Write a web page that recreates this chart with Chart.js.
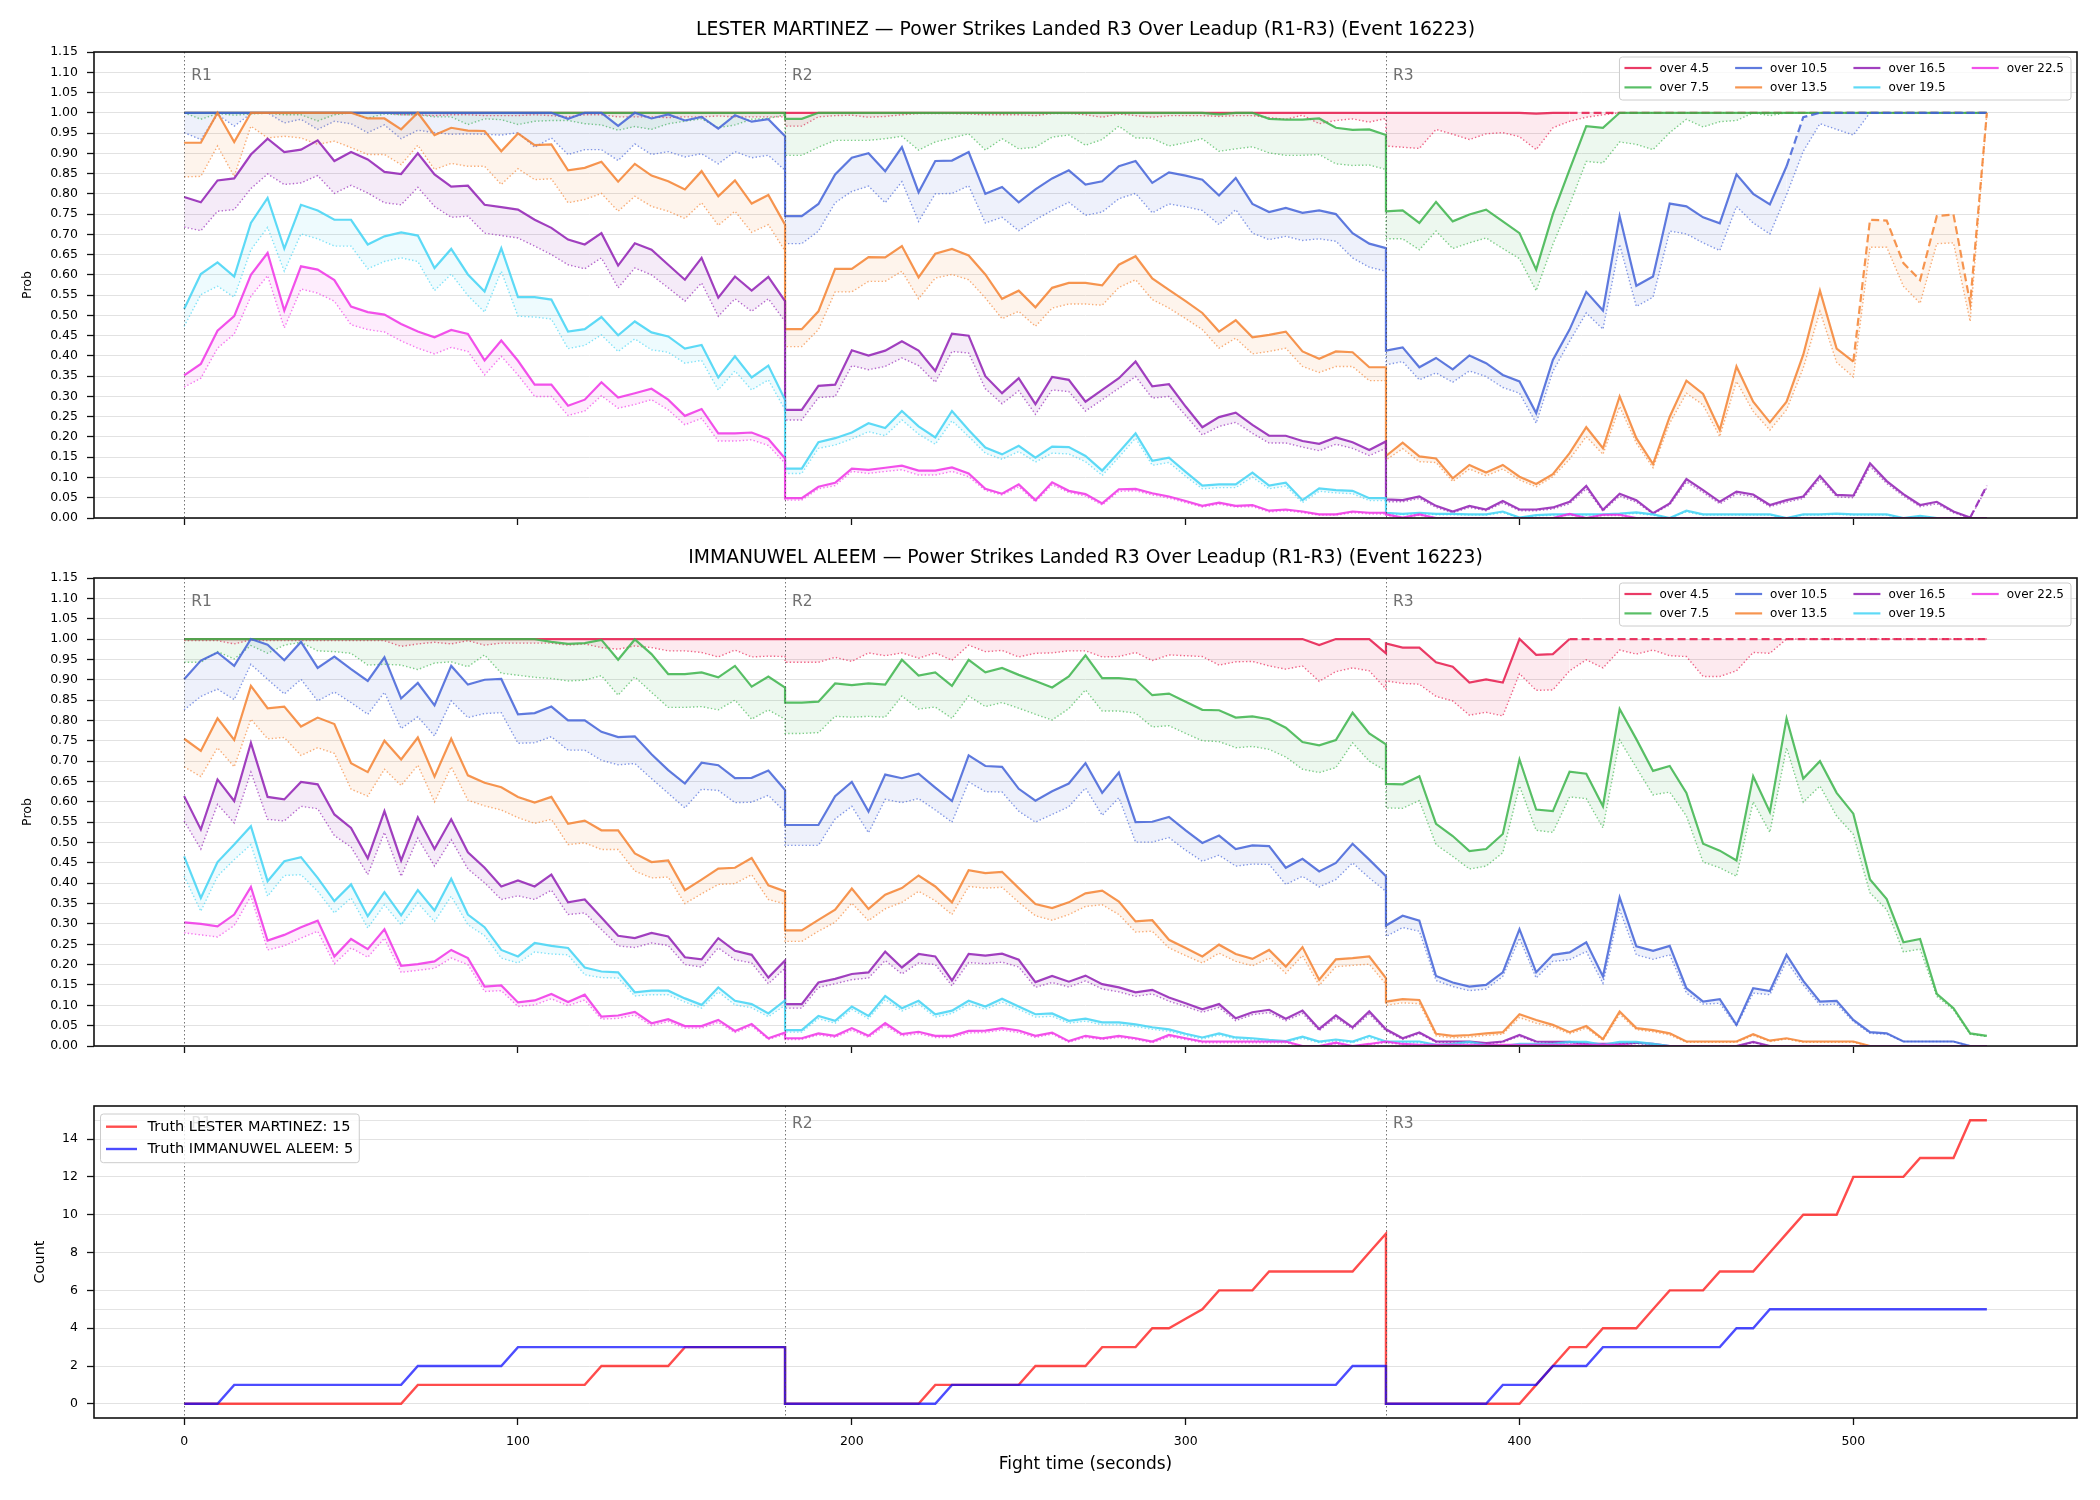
<!DOCTYPE html>
<html>
<head>
<meta charset="utf-8">
<title>Power Strikes Landed R3 Over Leadup</title>
<script src="https://cdn.jsdelivr.net/npm/chart.js@4.4.1/dist/chart.umd.min.js"></script>
<style>
  html, body { margin: 0; padding: 0; background: #fff; }
  #wrap { position: relative; width: 2100px; height: 1500px; }
  canvas { position: absolute; left: 0; }
</style>
</head>
<body>
<div id="wrap">
  <canvas id="cTop" width="2100" height="540" style="top:0px"></canvas>
  <canvas id="cMid" width="2100" height="535" style="top:540px"></canvas>
  <canvas id="cBot" width="2100" height="425" style="top:1075px"></canvas>
</div>
<script>
/* ---- data ---- */

var fightTime = [
  0,5,10,15,20,25,30,35,40,45, 50,55,60,65,70,75,80,85,90,95, 100,105,110,115,120,125,130,135,140,145, 150,155,160,165,170,175,180,
  180,185,190,195,200,205,210,215,220,225, 230,235,240,245,250,255,260,265,270,275, 280,285,290,295,300,305,310,315,320,325, 330,335,340,345,350,355,360,
  360,365,370,375,380,385,390,395,400,405, 410,415,420,425,430,435,440,445,450,455, 460,465,470,475,480,485,490,495,500,505, 510,515,520,525,530,535,540
];

var thresholdLabels = ['over 4.5', 'over 7.5', 'over 10.5', 'over 13.5', 'over 16.5', 'over 19.5', 'over 22.5'];
var thresholdColors = ['230,25,75', '60,180,75', '67,99,216', '245,130,49', '145,30,180', '66,212,244', '240,50,230'];

var roundStarts = [0, 180, 360];
var roundNames = ['R1', 'R2', 'R3'];

var probTicks = [0, 0.05, 0.1, 0.15, 0.2, 0.25, 0.3, 0.35, 0.4, 0.45, 0.5, 0.55, 0.6, 0.65, 0.7, 0.75, 0.8, 0.85, 0.9, 0.95, 1, 1.05, 1.1, 1.15];
var countTicks = [0, 2, 4, 6, 8, 10, 12, 14];
var timeTicks = [0, 100, 200, 300, 400, 500];

/* where each line turns dashed (seconds), null = never */
var dashFromMartinez = [415, null, 480, 500, 535, null, null];
var dashFromAleem = [415, null, null, null, null, null, null];

/* LESTER MARTINEZ */
var lmO45 = [
  1,1,1,1,1,1,1,1,1,1, 1,1,1,1,1,1,1,1,1,1, 1,1,1,1,1,1,1,1,1,1, 1,1,1,1,1,1,1,
  1,1,1,1,1,1,1,1,1,1, 1,1,1,1,1,1,1,1,1,1, 1,1,1,1,1,1,1,1,1,1, 1,1,1,1,1,1,1,
  1,1,1,1,1,1,1,1,1,0.998, 1,1,1,1,1,1,1,1,1,1, 1,1,1,1,1,1,1,1,1,1, 1,1,1,1,1,1,1
];
var lmO45Low = [
  1,1,1,1,1,1,1,1,1,0.998, 1,1,1,0.995,0.995,0.993,0.995,0.995,0.993,0.993, 0.993,0.995,0.993,0.99,0.995,0.995,0.99,0.99,0.99,0.988, 0.99,0.99,0.992,0.99,0.99,0.99,0.99,
  0.967,0.967,0.99,0.993,0.994,0.989,0.991,0.995,0.998,0.998, 0.998,0.997,0.995,0.995,0.995,0.993,0.998,0.998,0.995,0.989, 0.997,0.993,0.989,0.993,0.993,0.993,0.991,0.993,0.993,0.988, 0.984,0.994,0.973,0.981,0.985,0.977,0.986,
  0.918,0.915,0.912,0.959,0.947,0.934,0.948,0.951,0.941,0.909, 0.963,0.979,0.989,0.995,1,1,1,1,1,1, 1,1,1,1,1,1,1,1,1,1, 1,1,1,1,1,1,1
];
var lmO75 = [
  1,1,1,1,1,1,1,1,1,1, 1,1,1,1,1,1,1,1,1,1, 1,1,1,1,1,1,1,1,1,1, 1,1,1,1,1,1,1,
  0.985,0.985,1,1,1,1,1,1,1,1, 1,1,1,1,1,1,1,1,1,1, 1,1,1,1,1,1,0.996,1,1,0.985, 0.983,0.983,0.986,0.963,0.958,0.959,0.945,
  0.757,0.759,0.728,0.78,0.732,0.749,0.761,0.732,0.703,0.613, 0.75,0.86,0.967,0.963,1,1,1,1,1,1, 1,1,1,1,1,1,1,1,1,1, 1,1,1,1,1,1,1
];
var lmO75Low = [
  1,0.984,0.998,0.994,0.997,0.999,0.995,0.995,0.98,0.995, 1,0.987,0.997,0.995,0.995,0.99,0.99,0.971,0.985,0.983, 0.971,0.979,0.981,0.981,0.973,0.97,0.957,0.966,0.959,0.973, 0.979,0.985,0.963,0.97,0.984,0.986,0.995,
  0.895,0.895,0.915,0.932,0.932,0.932,0.936,0.942,0.908,0.928, 0.938,0.948,0.908,0.936,0.911,0.915,0.94,0.945,0.92,0.934, 0.967,0.938,0.937,0.918,0.926,0.936,0.905,0.911,0.916,0.901, 0.895,0.895,0.897,0.874,0.87,0.871,0.86,
  0.689,0.689,0.662,0.708,0.665,0.679,0.691,0.665,0.64,0.561, 0.675,0.773,0.88,0.876,0.928,0.922,0.909,0.951,0.984,0.965, 0.978,0.981,1,0.993,1,1,1,1,1,1, 1,1,1,1,1,1,1
];
var lmO105 = [
  1,1,1,1,1,1,1,1,1,1, 1,1,1,1,1,1,1,1,1,1, 1,1,1,0.985,1,1,0.968,1,0.986,0.996, 0.981,0.99,0.961,0.994,0.978,0.984,0.942,
  0.745,0.745,0.775,0.848,0.889,0.9,0.856,0.915,0.804,0.881, 0.882,0.903,0.8,0.817,0.779,0.811,0.838,0.858,0.823,0.831, 0.868,0.881,0.827,0.853,0.845,0.835,0.796,0.839,0.775,0.755, 0.765,0.753,0.759,0.75,0.703,0.677,0.666,
  0.413,0.421,0.372,0.395,0.367,0.401,0.382,0.353,0.337,0.259, 0.39,0.465,0.558,0.512,0.745,0.573,0.596,0.776,0.769,0.742, 0.727,0.848,0.8,0.774,0.868,0.989,1,1,1,1, 1,1,1,1,1,1,1
];
var lmO105Low = [
  0.951,0.934,0.996,0.967,0.998,1,0.975,0.984,0.959,0.979, 0.973,0.951,0.97,0.936,0.957,0.951,0.947,0.948,0.947,0.945, 0.951,0.915,0.938,0.897,0.909,0.909,0.882,0.923,0.897,0.904, 0.891,0.899,0.874,0.904,0.889,0.895,0.858,
  0.677,0.677,0.708,0.778,0.806,0.819,0.778,0.83,0.732,0.8, 0.801,0.82,0.728,0.742,0.709,0.736,0.759,0.779,0.747,0.755, 0.788,0.801,0.753,0.775,0.768,0.759,0.724,0.761,0.703,0.687, 0.695,0.685,0.689,0.683,0.642,0.619,0.609,
  0.378,0.386,0.341,0.358,0.335,0.363,0.349,0.322,0.308,0.234, 0.362,0.436,0.506,0.466,0.675,0.522,0.545,0.708,0.701,0.679, 0.66,0.769,0.728,0.701,0.798,0.905,0.973,0.959,0.945,1, 1,1,1,1,1,1,1
];
var lmO135 = [
  0.926,0.926,1,0.928,1,1,1,1,1,1, 1,0.986,0.986,0.959,1,0.945,0.963,0.956,0.955,0.905, 0.949,0.92,0.922,0.858,0.864,0.879,0.83,0.874,0.845,0.831, 0.811,0.856,0.794,0.833,0.776,0.797,0.724,
  0.466,0.466,0.51,0.615,0.615,0.644,0.643,0.671,0.594,0.652, 0.664,0.648,0.601,0.541,0.561,0.52,0.568,0.58,0.58,0.574, 0.625,0.646,0.591,0.563,0.535,0.506,0.46,0.488,0.446,0.452, 0.46,0.411,0.393,0.411,0.409,0.372,0.372,
  0.153,0.186,0.152,0.147,0.098,0.131,0.112,0.131,0.102,0.084, 0.108,0.16,0.224,0.172,0.3,0.197,0.133,0.25,0.339,0.306, 0.217,0.374,0.287,0.236,0.287,0.403,0.561,0.418,0.386,0.736, 0.734,0.629,0.587,0.745,0.749,0.53,1
];
var lmO135Low = [
  0.842,0.843,0.918,0.843,0.967,0.938,0.942,0.938,0.922,0.93, 0.914,0.897,0.897,0.872,0.92,0.86,0.875,0.868,0.868,0.823, 0.862,0.835,0.837,0.778,0.786,0.801,0.757,0.794,0.769,0.757, 0.739,0.778,0.722,0.757,0.705,0.724,0.659,
  0.423,0.423,0.465,0.558,0.558,0.584,0.584,0.609,0.541,0.592, 0.601,0.588,0.543,0.492,0.51,0.473,0.518,0.528,0.528,0.525, 0.569,0.588,0.539,0.518,0.492,0.465,0.419,0.444,0.405,0.411, 0.419,0.374,0.359,0.374,0.374,0.339,0.339,
  0.143,0.171,0.139,0.137,0.09,0.121,0.104,0.121,0.094,0.077, 0.102,0.145,0.201,0.157,0.275,0.185,0.124,0.234,0.308,0.279, 0.201,0.337,0.263,0.217,0.267,0.37,0.51,0.384,0.348,0.668, 0.668,0.572,0.53,0.677,0.679,0.485,1
];
var lmO165 = [
  0.792,0.779,0.833,0.838,0.897,0.936,0.903,0.909,0.932,0.881, 0.903,0.885,0.854,0.849,0.9,0.848,0.818,0.82,0.773,0.767, 0.761,0.736,0.716,0.687,0.675,0.703,0.623,0.678,0.662,0.625, 0.588,0.642,0.544,0.596,0.561,0.595,0.535,
  0.267,0.267,0.326,0.329,0.414,0.401,0.413,0.436,0.413,0.363, 0.455,0.45,0.35,0.308,0.345,0.281,0.348,0.341,0.287,0.316, 0.345,0.386,0.325,0.33,0.275,0.224,0.249,0.26,0.23,0.203, 0.203,0.19,0.183,0.199,0.187,0.168,0.189,
  0.046,0.044,0.053,0.03,0.016,0.03,0.021,0.042,0.021,0.021, 0.026,0.04,0.079,0.02,0.06,0.044,0.012,0.036,0.096,0.069, 0.04,0.065,0.058,0.032,0.044,0.053,0.104,0.057,0.055,0.135, 0.091,0.059,0.032,0.04,0.016,0.001,0.08
];
var lmO165Low = [
  0.718,0.709,0.757,0.761,0.813,0.849,0.823,0.827,0.845,0.801, 0.821,0.802,0.778,0.773,0.816,0.769,0.742,0.745,0.703,0.697, 0.691,0.671,0.65,0.625,0.615,0.642,0.568,0.617,0.6,0.568, 0.535,0.58,0.498,0.541,0.51,0.541,0.485,
  0.242,0.242,0.297,0.3,0.376,0.366,0.374,0.395,0.376,0.335, 0.411,0.407,0.319,0.282,0.314,0.256,0.316,0.312,0.264,0.292, 0.32,0.349,0.296,0.3,0.253,0.205,0.226,0.236,0.209,0.185, 0.185,0.175,0.166,0.182,0.172,0.154,0.172,
  0.04,0.04,0.048,0.026,0.013,0.026,0.018,0.037,0.018,0.018, 0.022,0.035,0.072,0.017,0.054,0.039,0.01,0.032,0.089,0.063, 0.035,0.059,0.053,0.028,0.039,0.048,0.097,0.052,0.05,0.127, 0.085,0.054,0.028,0.035,0.013,0,0.075
];
var lmO195 = [
  0.516,0.602,0.631,0.596,0.728,0.79,0.665,0.773,0.759,0.736, 0.736,0.675,0.695,0.705,0.697,0.617,0.664,0.601,0.559,0.666, 0.545,0.545,0.539,0.46,0.466,0.496,0.451,0.485,0.458,0.448, 0.418,0.427,0.347,0.399,0.347,0.376,0.292,
  0.122,0.122,0.187,0.197,0.211,0.234,0.222,0.264,0.226,0.199, 0.264,0.217,0.174,0.157,0.178,0.149,0.176,0.175,0.153,0.117, 0.162,0.209,0.141,0.149,0.114,0.08,0.083,0.083,0.112,0.08, 0.087,0.044,0.073,0.069,0.067,0.049,0.049,
  0.013,0.01,0.013,0.01,0.01,0.009,0.009,0.016,0.001,0.007, 0.009,0.009,0.009,0.009,0.011,0.014,0.009,0,0.018,0.009, 0.009,0.009,0.009,0.009,0,0.009,0.009,0.011,0.009,0.009, 0.009,0,0.005,0,0,0,0
];
var lmO195Low = [
  0.473,0.551,0.572,0.545,0.662,0.717,0.609,0.701,0.689,0.671, 0.671,0.615,0.633,0.642,0.633,0.561,0.602,0.549,0.508,0.609, 0.498,0.496,0.491,0.418,0.426,0.452,0.411,0.442,0.415,0.409, 0.382,0.389,0.316,0.363,0.316,0.341,0.267,
  0.11,0.11,0.172,0.18,0.195,0.213,0.203,0.242,0.207,0.182, 0.24,0.201,0.16,0.145,0.164,0.138,0.16,0.158,0.139,0.105, 0.15,0.197,0.13,0.137,0.103,0.072,0.075,0.075,0.101,0.072, 0.079,0.038,0.066,0.062,0.06,0.043,0.043,
  0.01,0.008,0.01,0.008,0.008,0.007,0.007,0.013,0,0.005, 0.007,0.007,0.007,0.007,0.009,0.011,0.007,0,0.015,0.007, 0.007,0.007,0.007,0.007,0,0.007,0.007,0.009,0.007,0.007, 0.007,0,0.003,0,0,0,0
];
var lmO225 = [
  0.352,0.38,0.462,0.498,0.6,0.654,0.512,0.621,0.613,0.587, 0.522,0.508,0.502,0.479,0.46,0.446,0.464,0.454,0.389,0.438, 0.388,0.329,0.329,0.277,0.292,0.335,0.297,0.308,0.319,0.292, 0.252,0.269,0.209,0.209,0.211,0.195,0.147,
  0.049,0.049,0.077,0.087,0.122,0.119,0.124,0.129,0.117,0.117, 0.125,0.11,0.072,0.06,0.083,0.044,0.088,0.067,0.059,0.036, 0.071,0.072,0.061,0.053,0.042,0.03,0.038,0.03,0.032,0.018, 0.021,0.016,0.009,0.009,0.016,0.013,0.013,
  0.009,0.001,0.009,0,0,0,0,0,0,0, 0,0.01,0,0.008,0.008,0,0,0,0,0, 0,0,0,0,0,0,0,0,0,0, 0,0,0,0,0,0,0
];
var lmO225Low = [
  0.323,0.345,0.419,0.454,0.547,0.598,0.469,0.565,0.555,0.535, 0.477,0.465,0.459,0.437,0.419,0.405,0.421,0.411,0.353,0.399, 0.353,0.3,0.3,0.253,0.264,0.302,0.271,0.28,0.292,0.267, 0.23,0.246,0.19,0.19,0.193,0.179,0.135,
  0.044,0.044,0.072,0.08,0.115,0.11,0.115,0.119,0.106,0.106, 0.115,0.102,0.068,0.057,0.077,0.04,0.082,0.063,0.054,0.032, 0.066,0.067,0.057,0.049,0.038,0.027,0.034,0.027,0.028,0.015, 0.018,0.013,0.007,0.007,0.013,0.01,0.01,
  0.007,0,0.007,0,0,0,0,0,0,0, 0,0.008,0,0.006,0.006,0,0,0,0,0, 0,0,0,0,0,0,0,0,0,0, 0,0,0,0,0,0,0
];

/* IMMANUWEL ALEEM */
var iaO45 = [
  1,1,1,1,1,1,1,1,1,1, 1,1,1,1,1,1,1,1,1,1, 1,1,1,1,1,1,1,1,1,1, 1,1,1,1,1,1,1,
  1,1,1,1,1,1,1,1,1,1, 1,1,1,1,1,1,1,1,1,1, 1,1,1,1,1,1,1,1,1,1, 1,1,0.985,1,1,1,0.965,
  0.989,0.979,0.979,0.943,0.932,0.893,0.901,0.893,1,0.961, 0.963,1,1,1,1,1,1,1,1,1, 1,1,1,1,1,1,1,1,1,1, 1,1,1,1,1,1,1
];
var iaO45Low = [
  0.996,0.996,0.996,0.988,0.998,0.996,0.996,0.996,0.996,0.996, 0.996,0.996,0.996,0.982,0.988,0.992,0.988,0.996,0.985,0.99, 0.99,0.99,0.99,0.985,0.988,0.979,0.975,0.983,0.979,0.971, 0.971,0.967,0.956,0.973,0.956,0.958,0.957,
  0.943,0.943,0.943,0.955,0.945,0.966,0.959,0.966,0.953,0.966, 0.948,0.985,0.969,0.972,0.956,0.965,0.966,0.971,0.971,0.956, 0.957,0.967,0.947,0.961,0.959,0.957,0.936,0.944,0.945,0.934, 0.926,0.934,0.896,0.92,0.929,0.922,0.877,
  0.897,0.891,0.889,0.859,0.848,0.813,0.82,0.811,0.915,0.874, 0.875,0.922,0.949,0.929,0.973,0.963,0.973,0.959,0.957,0.908, 0.908,0.922,0.967,0.965,1,1,1,1,1,1, 1,1,1,1,1,1,1
];
var iaO75 = [
  1,1,1,1,1,1,1,1,1,1, 1,1,1,1,1,1,1,1,1,1, 1,1,0.993,0.988,0.99,0.998,0.949,0.999,0.963,0.914, 0.914,0.918,0.906,0.934,0.883,0.908,0.881,
  0.844,0.844,0.846,0.891,0.887,0.891,0.888,0.949,0.91,0.918, 0.885,0.949,0.918,0.929,0.912,0.897,0.881,0.908,0.96,0.904, 0.904,0.9,0.862,0.866,0.846,0.826,0.825,0.807,0.81,0.803, 0.782,0.747,0.739,0.752,0.819,0.768,0.741,
  0.644,0.643,0.663,0.546,0.516,0.479,0.484,0.521,0.704,0.581, 0.577,0.674,0.669,0.589,0.828,0.754,0.676,0.688,0.622,0.497, 0.48,0.456,0.663,0.575,0.805,0.657,0.7,0.622,0.571,0.409, 0.361,0.255,0.263,0.128,0.093,0.031,0.025
];
var iaO75Low = [
  0.943,0.943,0.969,0.951,0.984,0.965,0.985,0.992,0.971,0.969, 0.965,0.936,0.938,0.936,0.925,0.941,0.944,0.932,0.961,0.916, 0.911,0.906,0.903,0.897,0.899,0.91,0.862,0.907,0.869,0.832, 0.832,0.834,0.826,0.85,0.803,0.826,0.803,
  0.768,0.768,0.77,0.81,0.808,0.81,0.808,0.86,0.828,0.833, 0.805,0.86,0.834,0.844,0.83,0.815,0.801,0.829,0.875,0.823, 0.823,0.818,0.784,0.787,0.768,0.75,0.748,0.733,0.736,0.729, 0.71,0.68,0.672,0.684,0.745,0.7,0.676,
  0.585,0.584,0.603,0.495,0.466,0.435,0.442,0.475,0.639,0.53, 0.525,0.612,0.608,0.536,0.752,0.684,0.617,0.624,0.565,0.452, 0.438,0.417,0.6,0.525,0.733,0.599,0.639,0.565,0.52,0.376, 0.335,0.231,0.238,0.122,0.089,0.029,0.023
];
var iaO105 = [
  0.901,0.947,0.967,0.934,1,0.986,0.948,0.993,0.929,0.957, 0.926,0.897,0.955,0.854,0.892,0.837,0.934,0.888,0.9,0.902, 0.815,0.818,0.834,0.8,0.8,0.772,0.759,0.761,0.717,0.678, 0.645,0.696,0.69,0.658,0.659,0.677,0.629,
  0.543,0.543,0.543,0.614,0.649,0.576,0.667,0.658,0.669,0.635, 0.602,0.714,0.688,0.686,0.632,0.603,0.626,0.645,0.695,0.622, 0.672,0.55,0.551,0.563,0.53,0.499,0.517,0.484,0.493,0.491, 0.438,0.46,0.429,0.45,0.497,0.458,0.417,
  0.296,0.32,0.308,0.172,0.156,0.146,0.15,0.181,0.287,0.181, 0.224,0.23,0.255,0.171,0.365,0.245,0.234,0.246,0.142,0.109, 0.115,0.052,0.142,0.135,0.224,0.16,0.109,0.111,0.064,0.034, 0.031,0.011,0.011,0.011,0.011,0,0
];
var iaO105Low = [
  0.826,0.859,0.877,0.851,0.938,0.901,0.865,0.901,0.848,0.87, 0.844,0.815,0.869,0.78,0.809,0.762,0.848,0.807,0.817,0.819, 0.744,0.745,0.76,0.727,0.727,0.702,0.691,0.694,0.657,0.621, 0.585,0.631,0.628,0.598,0.599,0.616,0.575,
  0.493,0.493,0.493,0.558,0.589,0.524,0.606,0.598,0.608,0.58, 0.55,0.649,0.625,0.624,0.577,0.55,0.569,0.588,0.634,0.567, 0.61,0.501,0.501,0.512,0.481,0.454,0.469,0.442,0.447,0.446, 0.397,0.417,0.391,0.409,0.45,0.413,0.38,
  0.269,0.291,0.282,0.161,0.146,0.136,0.14,0.171,0.265,0.167, 0.208,0.212,0.232,0.154,0.335,0.224,0.213,0.224,0.13,0.103, 0.105,0.049,0.13,0.126,0.208,0.15,0.101,0.103,0.06,0.031, 0.029,0.011,0.011,0.011,0.011,0,0
];
var iaO135 = [
  0.755,0.725,0.805,0.752,0.885,0.83,0.834,0.785,0.807,0.791, 0.695,0.673,0.75,0.704,0.758,0.662,0.755,0.665,0.647,0.636, 0.612,0.598,0.612,0.546,0.554,0.53,0.53,0.473,0.452,0.456, 0.383,0.409,0.436,0.438,0.462,0.395,0.38,
  0.284,0.284,0.31,0.335,0.387,0.337,0.372,0.388,0.419,0.392, 0.353,0.432,0.425,0.428,0.388,0.349,0.339,0.353,0.375,0.382, 0.355,0.306,0.309,0.261,0.241,0.22,0.249,0.226,0.214,0.236, 0.195,0.243,0.163,0.213,0.216,0.22,0.167,
  0.109,0.115,0.113,0.03,0.025,0.027,0.031,0.034,0.078,0.064, 0.052,0.034,0.049,0.017,0.085,0.044,0.039,0.031,0.011,0.011, 0.011,0.011,0.029,0.013,0.019,0.011,0.011,0.011,0.011,0, 0,0,0,0,0,0,0
];
var iaO135Low = [
  0.686,0.662,0.733,0.686,0.803,0.755,0.758,0.714,0.733,0.719, 0.631,0.614,0.68,0.64,0.69,0.6,0.686,0.604,0.59,0.58, 0.561,0.547,0.557,0.495,0.499,0.483,0.483,0.43,0.413,0.415, 0.35,0.374,0.397,0.399,0.421,0.36,0.349,
  0.257,0.257,0.282,0.304,0.351,0.308,0.337,0.353,0.38,0.357, 0.323,0.392,0.388,0.39,0.353,0.32,0.309,0.323,0.343,0.347, 0.323,0.28,0.282,0.241,0.222,0.204,0.228,0.208,0.197,0.216, 0.179,0.222,0.149,0.195,0.198,0.201,0.152,
  0.1,0.106,0.104,0.025,0.02,0.022,0.026,0.029,0.07,0.056, 0.047,0.03,0.044,0.014,0.078,0.04,0.035,0.027,0.009,0.009, 0.009,0.009,0.026,0.011,0.017,0.009,0.009,0.009,0.009,0, 0,0,0,0,0,0,0
];
var iaO165 = [
  0.614,0.532,0.655,0.602,0.745,0.612,0.606,0.649,0.643,0.569, 0.536,0.461,0.577,0.456,0.562,0.484,0.557,0.476,0.438,0.392, 0.407,0.392,0.421,0.353,0.36,0.316,0.271,0.265,0.278,0.269, 0.218,0.213,0.265,0.234,0.224,0.168,0.21,
  0.103,0.103,0.156,0.165,0.177,0.181,0.232,0.193,0.226,0.22, 0.161,0.226,0.222,0.227,0.212,0.157,0.172,0.158,0.173,0.152, 0.144,0.132,0.138,0.119,0.105,0.09,0.103,0.068,0.083,0.089, 0.067,0.087,0.042,0.075,0.046,0.085,0.041,
  0.041,0.019,0.033,0.011,0.011,0.011,0.007,0.011,0.027,0.011, 0.01,0.01,0.005,0.005,0.005,0.008,0.005,0,0,0, 0,0,0.01,0,0,0,0,0,0,0, 0,0,0,0,0,0,0
];
var iaO165Low = [
  0.553,0.484,0.594,0.548,0.673,0.557,0.553,0.589,0.583,0.517, 0.489,0.421,0.525,0.417,0.511,0.442,0.507,0.435,0.401,0.36, 0.369,0.36,0.383,0.323,0.327,0.286,0.246,0.242,0.253,0.247, 0.2,0.194,0.241,0.212,0.204,0.153,0.191,
  0.093,0.093,0.144,0.153,0.163,0.167,0.21,0.177,0.204,0.2, 0.148,0.205,0.202,0.206,0.194,0.144,0.156,0.145,0.16,0.14, 0.133,0.122,0.128,0.11,0.097,0.083,0.095,0.062,0.077,0.082, 0.062,0.08,0.038,0.069,0.042,0.078,0.037,
  0.037,0.016,0.03,0.009,0.009,0.009,0.005,0.009,0.024,0.009, 0.008,0.008,0.003,0.003,0.003,0.006,0.003,0,0,0, 0,0,0.008,0,0,0,0,0,0,0, 0,0,0,0,0,0,0
];
var iaO195 = [
  0.466,0.364,0.452,0.495,0.54,0.405,0.454,0.464,0.413,0.356, 0.397,0.319,0.378,0.321,0.383,0.333,0.411,0.323,0.292,0.236, 0.22,0.253,0.246,0.241,0.193,0.183,0.181,0.132,0.136,0.136, 0.117,0.101,0.144,0.111,0.103,0.08,0.112,
  0.039,0.039,0.074,0.062,0.097,0.074,0.123,0.093,0.111,0.078, 0.087,0.111,0.097,0.116,0.097,0.078,0.08,0.062,0.067,0.058, 0.058,0.053,0.046,0.041,0.03,0.021,0.031,0.021,0.019,0.015, 0.012,0.023,0.011,0.016,0.011,0.025,0.011,
  0.011,0.011,0.011,0.003,0.005,0.01,0.003,0,0.005,0.005, 0.005,0.01,0.01,0.003,0.01,0.01,0.005,0,0,0, 0,0,0,0,0,0,0,0,0,0, 0,0,0,0,0,0,0
];
var iaO195Low = [
  0.417,0.331,0.417,0.458,0.495,0.368,0.419,0.421,0.38,0.327, 0.364,0.29,0.347,0.298,0.351,0.306,0.368,0.298,0.271,0.216, 0.204,0.231,0.226,0.224,0.175,0.168,0.167,0.123,0.126,0.126, 0.108,0.093,0.133,0.101,0.094,0.072,0.1,
  0.034,0.034,0.067,0.056,0.09,0.067,0.114,0.086,0.103,0.071, 0.08,0.103,0.09,0.108,0.09,0.071,0.073,0.056,0.061,0.052, 0.052,0.048,0.041,0.036,0.026,0.017,0.027,0.017,0.015,0.011, 0.009,0.019,0.008,0.012,0.008,0.021,0.008,
  0.008,0.008,0.008,0.001,0.003,0.007,0.001,0,0.003,0.003, 0.003,0.007,0.007,0.001,0.007,0.007,0.003,0,0,0, 0,0,0,0,0,0,0,0,0,0, 0,0,0,0,0,0,0
];
var iaO225 = [
  0.304,0.3,0.294,0.323,0.391,0.259,0.273,0.292,0.308,0.22, 0.263,0.238,0.287,0.197,0.201,0.208,0.236,0.216,0.146,0.149, 0.107,0.112,0.128,0.108,0.126,0.072,0.075,0.084,0.056,0.066, 0.049,0.049,0.064,0.037,0.054,0.019,0.033,
  0.019,0.019,0.031,0.025,0.044,0.025,0.056,0.029,0.035,0.025, 0.025,0.037,0.038,0.044,0.038,0.025,0.033,0.012,0.025,0.019, 0.025,0.019,0.011,0.027,0.019,0.011,0.011,0.011,0.011,0.011, 0.011,0,0,0.008,0,0.005,0.011,
  0.011,0.005,0.003,0.003,0.003,0.003,0.003,0.003,0.003,0.003, 0.003,0.003,0.003,0.003,0.003,0,0,0,0,0, 0,0,0,0,0,0,0,0,0,0, 0,0,0,0,0,0,0
];
var iaO225Low = [
  0.278,0.273,0.268,0.296,0.368,0.236,0.246,0.265,0.282,0.202, 0.241,0.218,0.265,0.181,0.186,0.191,0.216,0.2,0.134,0.136, 0.097,0.101,0.116,0.099,0.113,0.066,0.068,0.076,0.05,0.06, 0.044,0.044,0.058,0.033,0.049,0.016,0.029,
  0.016,0.016,0.027,0.021,0.039,0.021,0.05,0.025,0.03,0.021, 0.021,0.032,0.033,0.039,0.033,0.021,0.029,0.009,0.021,0.016, 0.021,0.016,0.008,0.023,0.016,0.008,0.008,0.008,0.008,0.008, 0.008,0,0,0.005,0,0.003,0.008,
  0.008,0.003,0.001,0.001,0.001,0.001,0.001,0.001,0.001,0.001, 0.001,0.001,0.001,0.001,0.001,0,0,0,0,0, 0,0,0,0,0,0,0,0,0,0, 0,0,0,0,0,0,0
];

/* truth counts */
var truthLabels = ['Truth LESTER MARTINEZ: 15', 'Truth IMMANUWEL ALEEM: 5'];
var truthFinal = [15, 5];
var truthMartinez = [
  0,0,0,0,0,0,0,0,0,0, 0,0,0,0,1,1,1,1,1,1, 1,1,1,1,1,2,2,2,2,2, 3,3,3,3,3,3,3,
  0,0,0,0,0,0,0,0,0,1, 1,1,1,1,1,2,2,2,2,3, 3,3,4,4,4.5,5,6,6,6,7, 7,7,7,7,7,8,9,
  0,0,0,0,0,0,0,0,0,1, 2,3,3,4,4,4,5,6,6,6, 7,7,7,8,9,10,10,10,12,12, 12,12,13,13,13,15,15
];
var truthAleem = [
  0,0,0,1,1,1,1,1,1,1, 1,1,1,1,2,2,2,2,2,2, 3,3,3,3,3,3,3,3,3,3, 3,3,3,3,3,3,3,
  0,0,0,0,0,0,0,0,0,0, 1,1,1,1,1,1,1,1,1,1, 1,1,1,1,1,1,1,1,1,1, 1,1,1,1,2,2,2,
  0,0,0,0,0,0,0,1,1,1, 2,2,2,3,3,3,3,3,3,3, 3,4,4,5,5,5,5,5,5,5, 5,5,5,5,5,5,5
];

/* ---- checks ---- */
var allSeries = { lmO45: lmO45, lmO45Low: lmO45Low, lmO75: lmO75, lmO75Low: lmO75Low, lmO105: lmO105, lmO105Low: lmO105Low,
  lmO135: lmO135, lmO135Low: lmO135Low, lmO165: lmO165, lmO165Low: lmO165Low, lmO195: lmO195, lmO195Low: lmO195Low,
  lmO225: lmO225, lmO225Low: lmO225Low, iaO45: iaO45, iaO45Low: iaO45Low, iaO75: iaO75, iaO75Low: iaO75Low,
  iaO105: iaO105, iaO105Low: iaO105Low, iaO135: iaO135, iaO135Low: iaO135Low, iaO165: iaO165, iaO165Low: iaO165Low,
  iaO195: iaO195, iaO195Low: iaO195Low, iaO225: iaO225, iaO225Low: iaO225Low, truthMartinez: truthMartinez, truthAleem: truthAleem };
for (var key in allSeries) {
  if (allSeries[key].length !== fightTime.length) {
    throw new Error('length mismatch ' + key + ' ' + allSeries[key].length);
  }
}

/* ---- helpers ---- */

Chart.defaults.font.family = "'DejaVu Sans', 'Noto Sans', sans-serif";
Chart.defaults.color = '#000';

var FONT = "'DejaVu Sans', sans-serif";

function toPoints(vals) {
  return fightTime.map(function (t, k) { return { x: t, y: vals[k] }; });
}

function probSets(solids, lows, dashFrom) {
  var sets = [];
  solids.forEach(function (vals, i) {
    var rgb = thresholdColors[i];
    var cut = dashFrom[i];
    sets.push({
      label: thresholdLabels[i],
      data: toPoints(vals),
      borderColor: 'rgba(' + rgb + ',0.85)',
      backgroundColor: 'rgba(' + rgb + ',0.09)',
      borderWidth: 2.2,
      pointRadius: 0,
      fill: '+1',
      order: 40 - 2 * i,
      segment: {
        borderDash: function (c) {
          return (cut !== null && c.p0.parsed.x >= cut) ? [8, 4] : undefined;
        }
      }
    });
    sets.push({
      label: '',
      data: toPoints(lows[i]),
      borderColor: 'rgba(' + rgb + ',0.65)',
      borderWidth: 1.4,
      borderDash: [1.4, 2.2],
      pointRadius: 0,
      fill: false,
      order: 41 - 2 * i
    });
  });
  return sets;
}

/* frame, round markers, title, legend */
var panelDecor = {
  id: 'panelDecor',
  beforeDatasetsDraw: function (chart, args, opts) {
    if (!opts.hlines) return;
    var ctx = chart.ctx, a = chart.chartArea, ys = chart.scales.y;
    ctx.save();
    ctx.strokeStyle = '#e4e4e4';
    ctx.lineWidth = 1;
    opts.hlines.forEach(function (v) {
      var py = Math.round(ys.getPixelForValue(v)) + 0.5;
      ctx.beginPath(); ctx.moveTo(a.left, py); ctx.lineTo(a.right, py); ctx.stroke();
    });
    ctx.restore();
  },
  afterDatasetsDraw: function (chart) {
    var ctx = chart.ctx, a = chart.chartArea, xs = chart.scales.x;
    ctx.save();
    ctx.strokeStyle = 'rgba(70,70,70,0.75)';
    ctx.lineWidth = 1;
    ctx.setLineDash([1.5, 2.5]);
    roundStarts.forEach(function (t) {
      var px = Math.round(xs.getPixelForValue(t)) + 0.5;
      ctx.beginPath(); ctx.moveTo(px, a.top); ctx.lineTo(px, a.bottom); ctx.stroke();
    });
    ctx.setLineDash([]);
    ctx.fillStyle = '#707070';
    ctx.font = '15.5px ' + FONT;
    ctx.textAlign = 'left';
    ctx.textBaseline = 'top';
    roundStarts.forEach(function (t, i) {
      ctx.fillText(roundNames[i], xs.getPixelForValue(t) + 7, a.top + 0.034 * (a.bottom - a.top));
    });
    ctx.restore();
  },
  afterDraw: function (chart, args, opts) {
    var ctx = chart.ctx, a = chart.chartArea;
    ctx.save();
    // frame
    ctx.strokeStyle = '#111';
    ctx.lineWidth = 1.6;
    ctx.strokeRect(a.left, a.top, a.right - a.left, a.bottom - a.top);
    // title
    if (opts.title) {
      ctx.fillStyle = '#000';
      ctx.font = '18.75px ' + FONT;
      ctx.textAlign = 'center';
      ctx.textBaseline = 'middle';
      ctx.fillText(opts.title, (a.left + a.right) / 2, a.top - opts.titleGap);
    }
    // legend
    var items = chart.data.datasets.filter(function (d) { return d.label; });
    if (opts.legend === 'grid') {
      ctx.font = '12px ' + FONT;
      var cols = Math.ceil(items.length / 2);
      var starts = [5];
      for (var c = 0; c < cols; c++) {
        var w = 0;
        for (var r = 0; r < 2; r++) {
          var it = items[c * 2 + r];
          if (it) w = Math.max(w, ctx.measureText(it.label).width);
        }
        starts.push(starts[c] + 35 + w + 26);
      }
      var boxW = starts[cols] - 26 + 7;
      var bx = a.right - 6 - boxW, by = a.top + 5;
      roundBox(ctx, bx, by, boxW, 43);
      items.forEach(function (it, j) {
        var col = Math.floor(j / 2), row = j % 2;
        var y = by + 11 + row * 19.4;
        var x = bx + starts[col];
        ctx.strokeStyle = it.borderColor;
        ctx.lineWidth = 2.2;
        ctx.beginPath(); ctx.moveTo(x, y); ctx.lineTo(x + 27, y); ctx.stroke();
        ctx.fillStyle = '#000';
        ctx.textAlign = 'left';
        ctx.textBaseline = 'middle';
        ctx.fillText(it.label, x + 35, y + 0.5);
      });
    } else if (opts.legend === 'list') {
      ctx.font = '14.5px ' + FONT;
      var mw = 0;
      items.forEach(function (it) { mw = Math.max(mw, ctx.measureText(it.label).width); });
      var lx = a.left + 6.5, ly = a.top + 8;
      roundBox(ctx, lx, ly, 47 + mw + 6, 48.7);
      items.forEach(function (it, j) {
        var y = ly + 12.7 + j * 22.3;
        ctx.strokeStyle = it.borderColor;
        ctx.lineWidth = 2.4;
        ctx.beginPath(); ctx.moveTo(lx + 5.5, y); ctx.lineTo(lx + 36.5, y); ctx.stroke();
        ctx.fillStyle = '#000';
        ctx.textAlign = 'left';
        ctx.textBaseline = 'middle';
        ctx.fillText(it.label, lx + 47, y + 0.5);
      });
    }
    ctx.restore();
  }
};

function roundBox(ctx, x, y, w, h) {
  var r = 3;
  ctx.beginPath();
  ctx.moveTo(x + r, y);
  ctx.lineTo(x + w - r, y); ctx.quadraticCurveTo(x + w, y, x + w, y + r);
  ctx.lineTo(x + w, y + h - r); ctx.quadraticCurveTo(x + w, y + h, x + w - r, y + h);
  ctx.lineTo(x + r, y + h); ctx.quadraticCurveTo(x, y + h, x, y + h - r);
  ctx.lineTo(x, y + r); ctx.quadraticCurveTo(x, y, x + r, y);
  ctx.closePath();
  ctx.fillStyle = 'rgba(255,255,255,0.8)';
  ctx.fill();
  ctx.strokeStyle = '#cccccc';
  ctx.lineWidth = 1;
  ctx.stroke();
}

function xScale(height, showLabels) {
  var s = {
    type: 'linear',
    min: -27,
    max: 567,
    afterBuildTicks: function (sc) { sc.ticks = timeTicks.map(function (v) { return { value: v }; }); },
    ticks: { display: showLabels, font: { size: 12.5 }, padding: 9, maxRotation: 0, color: '#000' },
    grid: { drawOnChartArea: false, drawTicks: true, tickLength: 7, tickColor: '#111', tickWidth: 1.3 },
    border: { display: false },
    afterFit: function (sc) { sc.height = height; }
  };
  if (showLabels) {
    s.title = { display: true, text: 'Fight time (seconds)', font: { size: 17 }, padding: { top: 0, bottom: 25 }, color: '#000' };
  }
  return s;
}

function probOptions(title, gap) {
  return {
    responsive: false,
    animation: false,
    devicePixelRatio: 1,
    layout: { padding: { top: 0, right: 23, left: 0, bottom: 0 } },
    plugins: {
      legend: { display: false },
      tooltip: { enabled: false },
      panelDecor: { title: title, titleGap: gap, legend: 'grid' }
    },
    scales: {
      x: null,
      y: {
        min: 0,
        max: 1.15,
        afterBuildTicks: function (sc) { sc.ticks = probTicks.map(function (v) { return { value: v }; }); },
        ticks: { callback: function (v) { return v.toFixed(2); }, font: { size: 12.5 }, padding: 9, color: '#000' },
        grid: { color: '#e2e2e2', lineWidth: 1, tickLength: 7, tickColor: '#111', tickWidth: 1.3 },
        border: { display: false },
        title: { display: true, text: 'Prob', font: { size: 12.5 }, padding: { top: 20.5, bottom: 0 }, color: '#000' },
        afterFit: function (sc) { sc.width = 94; }
      }
    }
  };
}

/* ---- top: LESTER MARTINEZ ---- */
var optTop = probOptions('LESTER MARTINEZ \u2014 Power Strikes Landed R3 Over Leadup (R1-R3) (Event 16223)', 22);
optTop.layout.padding.top = 52;
optTop.scales.x = xScale(22, false);
new Chart(document.getElementById('cTop'), {
  type: 'line',
  data: {
    datasets: probSets(
      [lmO45, lmO75, lmO105, lmO135, lmO165, lmO195, lmO225],
      [lmO45Low, lmO75Low, lmO105Low, lmO135Low, lmO165Low, lmO195Low, lmO225Low],
      dashFromMartinez)
  },
  options: optTop,
  plugins: [panelDecor]
});

/* ---- middle: IMMANUWEL ALEEM ---- */
var optMid = probOptions('IMMANUWEL ALEEM \u2014 Power Strikes Landed R3 Over Leadup (R1-R3) (Event 16223)', 19.5);
optMid.layout.padding.top = 38;
optMid.scales.x = xScale(29, false);
new Chart(document.getElementById('cMid'), {
  type: 'line',
  data: {
    datasets: probSets(
      [iaO45, iaO75, iaO105, iaO135, iaO165, iaO195, iaO225],
      [iaO45Low, iaO75Low, iaO105Low, iaO135Low, iaO165Low, iaO195Low, iaO225Low],
      dashFromAleem)
  },
  options: optMid,
  plugins: [panelDecor]
});

/* ---- bottom: truth counts ---- */
new Chart(document.getElementById('cBot'), {
  type: 'line',
  data: {
    datasets: [
      { label: truthLabels[0], data: toPoints(truthMartinez), borderColor: 'rgba(255,0,0,0.7)', borderWidth: 2.4, pointRadius: 0, fill: false, order: 2 },
      { label: truthLabels[1], data: toPoints(truthAleem), borderColor: 'rgba(0,0,255,0.7)', borderWidth: 2.4, pointRadius: 0, fill: false, order: 1 }
    ]
  },
  options: {
    responsive: false,
    animation: false,
    devicePixelRatio: 1,
    layout: { padding: { top: 31, right: 23, left: 0, bottom: 0 } },
    plugins: {
      legend: { display: false },
      tooltip: { enabled: false },
      panelDecor: { legend: 'list', hlines: truthFinal }
    },
    scales: {
      x: xScale(82, true),
      y: {
        min: -0.75,
        max: 15.75,
        afterBuildTicks: function (sc) { sc.ticks = countTicks.map(function (v) { return { value: v }; }); },
        ticks: { font: { size: 12.5 }, padding: 9, color: '#000' },
        grid: { color: '#e2e2e2', lineWidth: 1, tickLength: 7, tickColor: '#111', tickWidth: 1.3 },
        border: { display: false },
        title: { display: true, text: 'Count', font: { size: 14.5 }, padding: { top: 32, bottom: 0 }, color: '#000' },
        afterFit: function (sc) { sc.width = 94; }
      }
    }
  },
  plugins: [panelDecor]
});
</script>
</body>
</html>
